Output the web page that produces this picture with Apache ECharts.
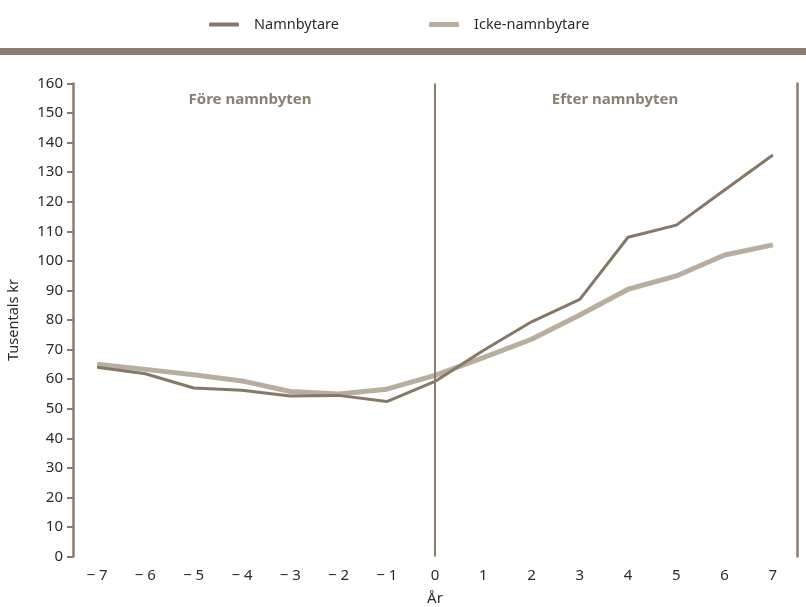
<!DOCTYPE html>
<html><head><meta charset="utf-8">
<script src="https://cdn.jsdelivr.net/npm/echarts@6/dist/echarts.min.js"></script>
<style>html,body{margin:0;padding:0;background:#fff}#c{width:806px;height:607px}</style>
</head><body><div id="c"></div>
<script>
const years = ['-7','-6','-5','-4','-3','-2','-1','0','1','2','3','4','5','6','7'];
const namnbytare = [64, 61.8, 57, 56.2, 54.3, 54.5, 52.4, 59.2, 69.7, 79.4, 87, 108, 112.1, 124, 135.8];
const ickeNamnbytare = [65, 63.3, 61.5, 59.4, 55.8, 55, 56.6, 61.3, 67.3, 73.5, 81.7, 90.4, 94.9, 102, 105.4];
const yTicks = {min: 0, max: 160, interval: 10};

const dark = '#857868', light = '#b9ad9f', axisCol = '#8a7d6e', txt = '#2b2b2b';
const font = 'Noto Sans';
const chart = echarts.init(document.getElementById('c'));
chart.setOption({
  animation: false,
  textStyle: {fontFamily: font},
  grid: {left: 73, right: 9, top: 83.5, bottom: 50.5, outerBoundsMode: 'none', containLabel: false},
  legend: [
    {data: ['Namnbytare'], left: 204, top: 12, icon: 'roundRect', itemWidth: 30, itemHeight: 4,
     textStyle: {fontFamily: font, fontSize: 14.5, color: txt, padding: [0,0,0,10]}},
    {data: ['Icke-namnbytare'], left: 424, top: 12, icon: 'roundRect', itemWidth: 30, itemHeight: 5,
     textStyle: {fontFamily: font, fontSize: 14.5, color: txt, padding: [0,0,0,10]}}
  ],
  graphic: [
    {type: 'rect', left: 0, top: 48, shape: {width: 806, height: 7}, style: {fill: axisCol}},
    {type: 'text', x: 250, y: 100, style: {text: 'Före namnbyten', align: 'center', verticalAlign: 'middle',
      fontFamily: font, fontSize: 15, fontWeight: 'bold', fill: '#8c7f70'}, silent: true},
    {type: 'text', x: 615, y: 100, style: {text: 'Efter namnbyten', align: 'center', verticalAlign: 'middle',
      fontFamily: font, fontSize: 15, fontWeight: 'bold', fill: '#8c7f70'}, silent: true}
  ],
  xAxis: {
    type: 'category', data: years, boundaryGap: true,
    axisLine: {show: false}, axisTick: {show: false},
    axisLabel: {margin: 12, fontSize: 15, color: txt, fontFamily: font,
      formatter: v => (v.startsWith('-') ? '\u2212 ' + v.slice(1) : v)},
    name: 'År', nameLocation: 'middle', nameGap: 35,
    nameTextStyle: {fontSize: 15, color: txt, fontFamily: font}
  },
  yAxis: [
    {type: 'value', min: yTicks.min, max: yTicks.max, interval: yTicks.interval,
     axisLine: {show: true, lineStyle: {color: axisCol, width: 2.5}},
     axisTick: {show: true, length: 6, lineStyle: {color: axisCol, width: 2}},
     splitLine: {show: false},
     axisLabel: {margin: 10, fontSize: 15, color: txt, fontFamily: font},
     name: 'Tusentals kr', nameLocation: 'middle', nameGap: 52, nameRotate: 90,
     nameTextStyle: {fontSize: 14.5, color: txt, fontFamily: font}},
    {type: 'value', position: 'right', min: yTicks.min, max: yTicks.max, interval: yTicks.interval,
     axisLine: {show: true, lineStyle: {color: axisCol, width: 2.5}},
     axisTick: {show: false}, axisLabel: {show: false}, splitLine: {show: false}}
  ],
  series: [
    {name: 'Icke-namnbytare', type: 'line', data: ickeNamnbytare, symbol: 'none',
     lineStyle: {color: light, width: 5}, itemStyle: {color: light}},
    {name: 'Namnbytare', type: 'line', data: namnbytare, symbol: 'none',
     lineStyle: {color: dark, width: 3}, itemStyle: {color: dark},
     markLine: {silent: true, symbol: 'none', label: {show: false},
       lineStyle: {color: axisCol, width: 2, type: 'solid'}, data: [{xAxis: '0'}]}}
  ]
});
</script></body></html>
